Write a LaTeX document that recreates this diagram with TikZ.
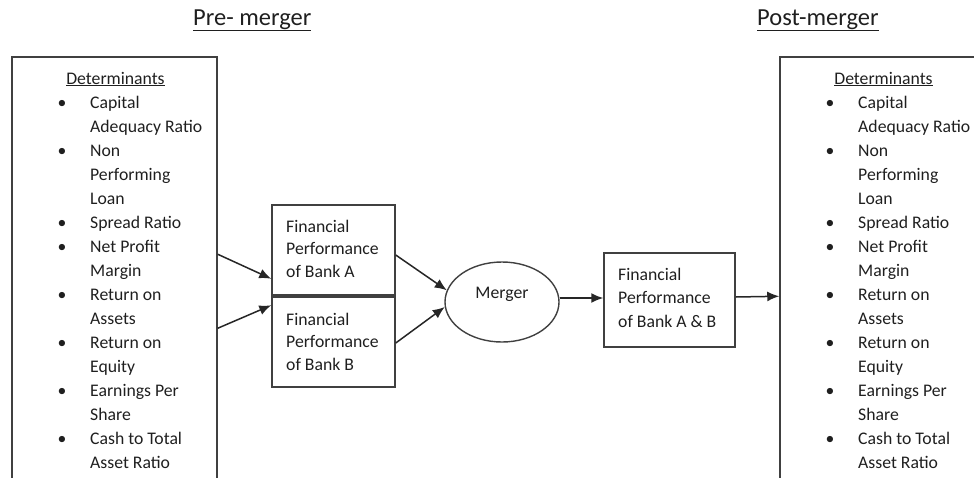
\documentclass[tikz,border=0pt]{standalone}
\usepackage{fontspec}
\setmainfont{Carlito}
\usetikzlibrary{arrows.meta,shapes.geometric}
\begin{document}
\begin{tikzpicture}[x=1pt,y=-1pt,
  box/.style={draw=black!75, line width=1.5pt, rectangle, inner sep=0pt},
  txt/.style={font=\fontsize{17.7}{22}\selectfont, text=black!88, inner sep=0pt},
  ttl/.style={font=\fontsize{24.5}{28}\selectfont, text=black!88, inner sep=0pt, anchor=base west},
  arr/.style={draw=black!85, line width=1.5pt, -{Latex[length=12pt,width=10pt]}}]
\useasboundingbox (0,0) rectangle (974,477);
\clip (0,0) rectangle (974,477);

% titles
\node[ttl] (pre) at (193,25) {\underline{Pre- merger}};
\node[ttl] (post) at (757,25) {\underline{Post-merger}};

% boxes
\node[box, minimum width=205pt, minimum height=443pt] (left) at (114.5,278.5) {};
\node[box, minimum width=220pt, minimum height=443pt] (right) at (890,278.5) {};
\node[box, minimum width=123pt, minimum height=90pt] (bankA) at (333.5,250) {};
\node[box, minimum width=123pt, minimum height=90pt] (bankB) at (333.5,342) {};
\node[box, minimum width=131pt, minimum height=94pt] (bankAB) at (669.5,300) {};
\node[draw=black!75, line width=1.4pt, ellipse, minimum width=114pt, minimum height=80pt, inner sep=0pt] (merger) at (502,302) {};

% determinant lists
\foreach \side/\dx in {L/0,R/768}{
  \node[txt, anchor=base] (\side head) at (115.5+\dx,84) {\underline{Determinants}};
  \foreach \t [count=\i] in {Capital,Adequacy Ratio,Non,Performing,Loan,Spread Ratio,Net Profit,Margin,Return on,Assets,Return on,Equity,Earnings Per,Share,Cash to Total,Asset Ratio}{
    \node[txt, anchor=base west] (\side t\i) at (90+\dx,84+24*\i) {\t};
  }
  \foreach \i in {1,3,6,7,9,11,13,15}{
    \node[txt, anchor=base] (\side b\i) at (62+\dx,84+24*\i) {•};
  }
}

% bank texts
\foreach \t [count=\i] in {Financial,Performance,of Bank A}{
  \node[txt, anchor=base west] (ta\i) at (286,209.5+22.5*\i) {\t};
}
\foreach \t [count=\i] in {Financial,Performance,of Bank B}{
  \node[txt, anchor=base west] (tb\i) at (286,302.5+22.5*\i) {\t};
}
\foreach \t [count=\i] in {Financial,Performance,of Bank A \& B}{
  \node[txt, anchor=base west] (tab\i) at (618,256.5+23.5*\i) {\t};
}
\node[txt, anchor=base] (mlabel) at (502,298) {Merger};

% connectors
\draw[arr] ([yshift=-198pt]left.north east) -- ([yshift=17pt]bankA.south west);
\draw[arr] ([yshift=-272pt]left.north east) -- ([yshift=-9pt]bankB.north west);
\draw[arr] ([yshift=-5pt]bankA.east) -- (merger.168);
\draw[arr] ([yshift=-1pt]bankB.east) -- (merger.185);
\draw[arr] ([yshift=4pt]merger.east) -- ([yshift=2pt]bankAB.west);
\draw[arr] ([yshift=3pt]bankAB.east) -- ([yshift=-240pt]right.north west);
\end{tikzpicture}
\end{document}
